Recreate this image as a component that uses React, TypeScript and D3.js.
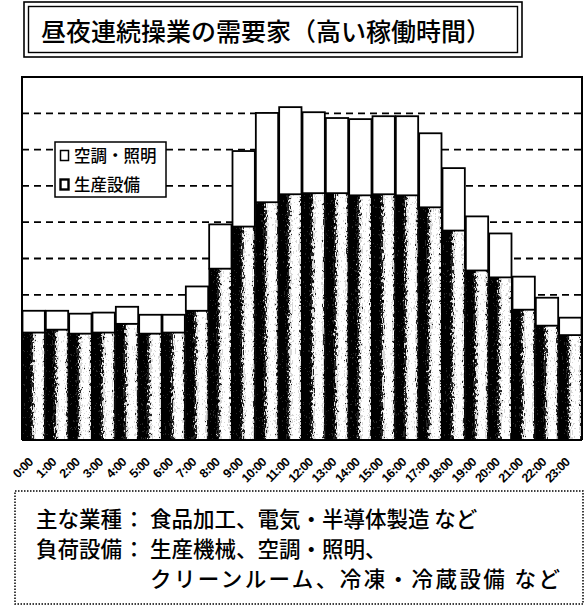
import React from 'react';
import * as d3 from 'd3';

const hours = ['0:00','1:00','2:00','3:00','4:00','5:00','6:00','7:00','8:00','9:00','10:00','11:00','12:00','13:00','14:00','15:00','16:00','17:00','18:00','19:00','20:00','21:00','22:00','23:00'];
const production = [2.96,3.04,2.93,2.96,3.20,2.93,2.96,3.56,4.72,5.88,6.55,6.77,6.80,6.80,6.74,6.77,6.74,6.41,5.77,4.67,4.48,3.59,3.15,2.89];
const airLighting = [0.60,0.52,0.55,0.55,0.47,0.52,0.49,0.67,1.22,2.08,2.46,2.40,2.23,2.07,2.10,2.15,2.18,2.04,1.72,1.49,1.21,0.91,0.77,0.48];
const legendNames = ['空調・照明', '生産設備'];
const gridValues = [1,2,3,4,5,6,7,8,9];
const title = '昼夜連続操業の需要家（高い稼働時間）';
const noteLabels = ['主な業種', '負荷設備'];
const noteLines = ['食品加工、電気・半導体製造 など', '生産機械、空調・照明、', 'クリーンルーム、冷凍・冷蔵設備 など'];

const JP = '"Noto Sans CJK JP", "Noto Sans", sans-serif';

export default function App() {
  const W = 588, H = 607;
  const left = 22, right = 582, top = 77, bottom = 440;
  const x = d3.scaleBand<string>().domain(hours).range([left, right]).padding(0);
  const y = d3.scaleLinear().domain([0, 10]).range([bottom, top]);
  const rows = hours.map((h, i) => ({ hour: h, p: production[i], a: airLighting[i] }));
  const stack = d3.stack<any>().keys(['p', 'a'])(rows);
  const bw = x.bandwidth();

  return (
    <svg width={W} height={H} style={{ position: 'absolute', left: 0, top: 0, background: '#fff' }}>
      <defs>
        <linearGradient id="cyl" x1="0" x2="1" y1="0" y2="0">
          <stop offset="0" stopColor="#000" />
          <stop offset="0.28" stopColor="#000" />
          <stop offset="0.45" stopColor="#777" />
          <stop offset="0.62" stopColor="#f2f2f2" />
          <stop offset="0.8" stopColor="#fff" />
          <stop offset="0.93" stopColor="#999" />
          <stop offset="1" stopColor="#222" />
        </linearGradient>
        <filter id="dither" filterUnits="userSpaceOnUse" x="0" y="0" width={W} height={H} colorInterpolationFilters="sRGB">
          <feTurbulence type="fractalNoise" baseFrequency="0.9 0.3" numOctaves="2" seed="11" result="noise" />
          <feColorMatrix in="noise" type="matrix" values="1 0 0 0 0  1 0 0 0 0  1 0 0 0 0  0 0 0 0 1" result="gray" />
          <feComposite in="SourceGraphic" in2="gray" operator="arithmetic" k1="0" k2="1" k3="1.2" k4="-0.6" result="mix" />
          <feComponentTransfer in="mix" result="thr">
            <feFuncR type="discrete" tableValues="0 0.15 0.85 1" />
            <feFuncG type="discrete" tableValues="0 0.15 0.85 1" />
            <feFuncB type="discrete" tableValues="0 0.15 0.85 1" />
          </feComponentTransfer>
          <feComposite in="thr" in2="SourceAlpha" operator="in" />
        </filter>
      </defs>

      {/* Title box */}
      <rect x={24} y={2} width={498} height={55} fill="#fff" stroke="#000" strokeWidth={1.6} />
      <rect x={28.5} y={6.5} width={489} height={46} fill="none" stroke="#000" strokeWidth={1.4} />
      <text x={41} y={41} fontFamily={JP} fontSize={25} fontWeight={500} fill="#000">{title}</text>

      {/* grid */}
      {gridValues.map(v => (
        <line key={v} x1={left} x2={right} y1={y(v)} y2={y(v)} stroke="#000" strokeWidth={1.8} strokeDasharray="7,5" />
      ))}

      {/* production bars */}
      <g filter="url(#dither)">
        {stack[0].map((d, i) => (
          <rect key={i} x={x(hours[i])} y={y(d[1])} width={bw} height={y(d[0]) - y(d[1])} fill="url(#cyl)" />
        ))}
      </g>
      {stack[0].map((d, i) => (
        <rect key={'o' + i} x={x(hours[i])! + 0.5} y={y(d[1])} width={bw - 1} height={y(d[0]) - y(d[1])} fill="none" stroke="#000" strokeWidth={1} />
      ))}
      {/* air/lighting bars */}
      {stack[1].map((d, i) => (
        <rect key={'a' + i} x={x(hours[i])! + 0.5} y={y(d[1])} width={bw - 1} height={y(d[0]) - y(d[1])} fill="#fff" stroke="#000" strokeWidth={1.8} />
      ))}

      {/* frame */}
      <path d={`M${left},${bottom} V${top} H${right} V${bottom}`} fill="none" stroke="#000" strokeWidth={2} />
      <line x1={left} x2={right} y1={bottom} y2={bottom} stroke="#000" strokeWidth={2} />

      {/* legend */}
      <rect x={55} y={142} width={111} height={55} fill="#fff" stroke="#000" strokeWidth={1.5} />
      {legendNames.map((n, i) => (
        <g key={n}>
          <rect x={60.5} y={150.5 + i * 29} width={8} height={10} fill="#fff" stroke="#000" strokeWidth={i === 0 ? 1.5 : 2.4} />
          <text x={74} y={162 + i * 29} fontFamily={JP} fontSize={16.5} fontWeight={500} fill="#000">{n}</text>
        </g>
      ))}

      {/* x labels */}
      {hours.map(h => (
        <text key={h} transform={`translate(${x(h)! + bw / 2},${463}) rotate(-45)`} textAnchor="end"
          fontFamily='"Liberation Sans", Arial, sans-serif' fontWeight="bold" fontSize={12.5} letterSpacing={-0.7} fill="#000">{h}</text>
      ))}

      {/* note box */}
      <rect x={15} y={491} width={568} height={113} fill="none" stroke="#000" strokeWidth={1.5} strokeDasharray="1.5,1.5" />
      {noteLabels.map((l, i) => (
        <g key={l}>
          <text x={36} y={527 + i * 30} fontFamily={JP} fontSize={21.5} fontWeight={500} fill="#000">{l}</text>
          <text x={134} y={527 + i * 30} textAnchor="middle" fontFamily={JP} fontSize={21.5} fontWeight={500} fill="#000">：</text>
        </g>
      ))}
      {noteLines.map((t, i) => (
        <text key={t} x={150} y={527 + i * 30} fontFamily={JP} fontSize={21.5} fontWeight={500} fill="#000"
          textLength={i === 2 ? 410 : undefined} lengthAdjust="spacing">{t}</text>
      ))}
    </svg>
  );
}
